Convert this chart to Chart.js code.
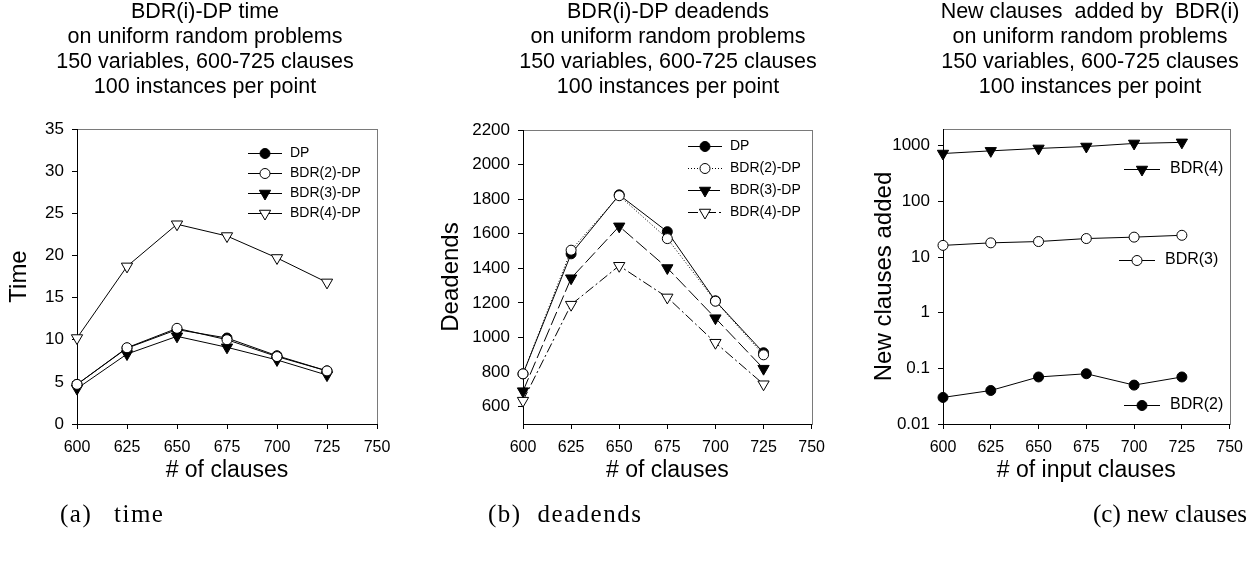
<!DOCTYPE html>
<html>
<head>
<meta charset="utf-8">
<title>BDR(i)-DP on uniform random problems</title>
<script src="https://cdn.jsdelivr.net/npm/chart.js@4.4.0/dist/chart.umd.min.js"></script>
<style>
    body { margin: 0; background: #fff; }
    #page { position: relative; width: 1252px; height: 571px; overflow: hidden; background: #fff; }
    #page canvas { position: absolute; top: 0; }
    .caption {
        position: absolute;
        font-family: 'Liberation Serif', 'Times New Roman', serif;
        font-size: 25px;
        color: #000;
        white-space: nowrap;
        line-height: 1;
        transform: translateY(-50%);
    }
</style>
</head>
<body>
<div id="page">
    <canvas id="timeChart" width="417" height="571" style="left:0"></canvas>
    <canvas id="deadendsChart" width="417" height="571" style="left:417px"></canvas>
    <canvas id="clausesChart" width="418" height="571" style="left:834px"></canvas>
    <div class="caption" style="left:60px; top:513px; word-spacing:14px; letter-spacing:1.5px">(a) time</div>
    <div class="caption" style="left:488px; top:513px; word-spacing:8px; letter-spacing:1.5px">(b) deadends</div>
    <div class="caption" style="left:1093px; top:513px">(c) new clauses</div>
</div>

<script>
// x values shared by all three panels
const clauses = [600, 625, 650, 675, 700, 725];
const clauseTicks = [600, 625, 650, 675, 700, 725, 750];

// (a) time
const timeDP = [4.7, 9.0, 11.2, 10.2, 8.1, 6.3];
const timeBDR2 = [4.7, 9.05, 11.35, 10.0, 8.0, 6.3];
const timeBDR3 = [4.2, 8.3, 10.4, 9.1, 7.6, 5.8];
const timeBDR4 = [10.2, 18.7, 23.7, 22.3, 19.7, 16.8];
const timeTicks = [0, 5, 10, 15, 20, 25, 30, 35];

// (b) deadends
const deadDP = [790, 1484, 1825, 1612, 1212, 912];
const deadBDR2 = [790, 1505, 1820, 1572, 1210, 900];
const deadBDR3 = [690, 1343, 1643, 1402, 1112, 820];
const deadBDR4 = [635, 1190, 1415, 1232, 970, 730];
const deadTicks = [600, 800, 1000, 1200, 1400, 1600, 1800, 2000, 2200];

// (c) new clauses (log scale)
const newBDR2 = [0.03, 0.04, 0.07, 0.08, 0.05, 0.07];
const newBDR3 = [16.2, 18, 19, 21.5, 22.8, 24.6];
const newBDR4 = [725, 810, 895, 970, 1100, 1150];
const newTicks = [0.01, 0.1, 1, 10, 100, 1000];

const SANS = "'Liberation Sans', Arial, sans-serif";

Chart.defaults.font.family = SANS;
Chart.defaults.color = '#000';
Chart.defaults.animation = false;

function points(ys) {
    return clauses.map((x, i) => ({ x: x, y: ys[i] }));
}

function series(label, ys, marker, extra) {
    return Object.assign({
        label: label,
        data: points(ys),
        borderColor: '#000',
        borderWidth: 1,
        tension: 0,
        clip: false,
        pointBorderColor: '#000',
        pointBorderWidth: 1,
        pointStyle: marker.style,
        pointRotation: marker.rotation || 0,
        pointBackgroundColor: marker.fill,
        pointRadius: marker.radius
    }, extra || {});
}

// grey box round the plot area; the axes draw their black edges over it
const plotFrame = {
    id: 'plotFrame',
    beforeDraw(chart) {
        const a = chart.chartArea;
        const ctx = chart.ctx;
        ctx.save();
        ctx.strokeStyle = '#7a7a7a';
        ctx.lineWidth = 1;
        ctx.strokeRect(Math.round(a.left) + 0.5, Math.round(a.top) + 0.5,
            Math.round(a.right - a.left), Math.round(a.bottom - a.top));
        ctx.restore();
    }
};

// the four centred heading lines above each panel
const panelTitle = {
    id: 'panelTitle',
    afterDraw(chart, args, opts) {
        if (!opts.lines) return;
        const ctx = chart.ctx;
        ctx.save();
        ctx.fillStyle = '#000';
        ctx.font = opts.size + 'px ' + SANS;
        ctx.textAlign = 'center';
        ctx.textBaseline = 'middle';
        opts.lines.forEach((line, i) => ctx.fillText(line, opts.x, opts.y + i * opts.step));
        ctx.restore();
    }
};

// legend entries drawn inside the plot, taken from the datasets themselves
const inlineLegend = {
    id: 'inlineLegend',
    afterDatasetsDraw(chart, args, opts) {
        if (!opts.items) return;
        const ctx = chart.ctx;
        const sets = chart.data.datasets;
        opts.items.forEach(function(item) {
            const ds = sets[item.ds];
            ctx.save();
            ctx.strokeStyle = '#000';
            ctx.lineWidth = 1;
            ctx.setLineDash(ds.borderDash || []);
            ctx.beginPath();
            ctx.moveTo(item.x0, item.y + 0.5);
            ctx.lineTo(item.x1, item.y + 0.5);
            ctx.stroke();
            ctx.setLineDash([]);
            ctx.fillStyle = ds.pointBackgroundColor;
            Chart.helpers.drawPoint(ctx, {
                pointStyle: ds.pointStyle,
                radius: ds.pointRadius,
                rotation: ds.pointRotation,
                borderWidth: 1
            }, (item.x0 + item.x1) / 2, item.y + 0.5);
            ctx.fillStyle = '#000';
            ctx.font = opts.size + 'px ' + SANS;
            ctx.textAlign = 'left';
            ctx.textBaseline = 'middle';
            ctx.fillText(ds.label, item.tx, item.y);
            ctx.restore();
        });
    }
};

function xAxis(titleText) {
    return {
        type: 'linear',
        min: 600,
        max: 750,
        afterBuildTicks: scale => { scale.ticks = clauseTicks.map(v => ({ value: v })); },
        afterFit: scale => { scale.height = 60; },
        grid: { drawOnChartArea: false, tickLength: 5, tickColor: '#000' },
        border: { color: '#000', width: 1 },
        ticks: { color: '#000', font: { size: 16 }, padding: 9, maxRotation: 0, autoSkip: false },
        title: { display: true, text: titleText, color: '#000', font: { size: 23 }, padding: 0 }
    };
}

function yAxis(opts) {
    return {
        type: opts.type || 'linear',
        min: opts.min,
        max: opts.max,
        afterBuildTicks: scale => { scale.ticks = opts.ticks.map(v => ({ value: v })); },
        afterFit: scale => { scale.width = opts.width; },
        grid: { drawOnChartArea: false, tickLength: 5, tickColor: '#000' },
        border: { color: '#000', width: 1 },
        ticks: { color: '#000', font: { size: 17 }, padding: 8, autoSkip: false, callback: v => String(v) },
        title: { display: true, text: opts.title, color: '#000', font: { size: 24 }, padding: { top: opts.titlePad, bottom: 0 } }
    };
}

function headingLines(first) {
    return [first, 'on uniform random problems', '150 variables, 600-725 clauses', '100 instances per point'];
}

const dot = { style: 'circle', fill: '#000', radius: 5 };
const ring = { style: 'circle', fill: '#fff', radius: 5 };
const tri = { style: 'triangle', rotation: 180, fill: '#000', radius: 6.5 };
const triOpen = { style: 'triangle', rotation: 180, fill: '#fff', radius: 6.5 };

function baseOptions(pad) {
    return {
        responsive: false,
        animation: false,
        events: [],
        layout: { padding: pad },
        plugins: { legend: { display: false }, tooltip: { enabled: false } }
    };
}

// (a) time
const timeOptions = baseOptions({ left: 0, right: 40, top: 129, bottom: 87 });
timeOptions.scales = {
    x: xAxis('# of clauses'),
    y: yAxis({ min: 0, max: 35, ticks: timeTicks, width: 77, title: 'Time', titlePad: 5 })
};
timeOptions.plugins.panelTitle = { lines: headingLines('BDR(i)-DP time'), x: 205, y: 12, step: 25, size: 21.5 };
timeOptions.plugins.inlineLegend = {
    size: 14,
    items: [
        { ds: 0, x0: 248, x1: 282, tx: 290, y: 153 },
        { ds: 1, x0: 248, x1: 282, tx: 290, y: 173 },
        { ds: 2, x0: 248, x1: 282, tx: 290, y: 193 },
        { ds: 3, x0: 248, x1: 282, tx: 290, y: 213 }
    ]
};

new Chart(document.getElementById('timeChart'), {
    type: 'line',
    data: {
        datasets: [
            series('DP', timeDP, dot, { order: 1 }),
            series('BDR(2)-DP', timeBDR2, ring, { order: 0 }),
            series('BDR(3)-DP', timeBDR3, tri, { order: 2 }),
            series('BDR(4)-DP', timeBDR4, triOpen, { order: 3 })
        ]
    },
    options: timeOptions,
    plugins: [plotFrame, panelTitle, inlineLegend]
});

// (b) deadends
const deadOptions = baseOptions({ left: 0, right: 22, top: 130, bottom: 87 });
deadOptions.scales = {
    x: xAxis('# of clauses'),
    y: yAxis({ min: 500, max: 2200, ticks: deadTicks, width: 106, title: 'Deadends', titlePad: 20 })
};
deadOptions.plugins.panelTitle = { lines: headingLines('BDR(i)-DP deadends'), x: 251, y: 12, step: 25, size: 21.5 };
deadOptions.plugins.inlineLegend = {
    size: 14,
    items: [
        { ds: 0, x0: 271, x1: 305, tx: 313, y: 146 },
        { ds: 1, x0: 271, x1: 305, tx: 313, y: 168 },
        { ds: 2, x0: 271, x1: 305, tx: 313, y: 190 },
        { ds: 3, x0: 271, x1: 305, tx: 313, y: 212 }
    ]
};

new Chart(document.getElementById('deadendsChart'), {
    type: 'line',
    data: {
        datasets: [
            series('DP', deadDP, dot, { order: 1 }),
            series('BDR(2)-DP', deadBDR2, ring, { order: 0, borderDash: [1, 2] }),
            series('BDR(3)-DP', deadBDR3, tri, { order: 2, borderDash: [14, 4] }),
            series('BDR(4)-DP', deadBDR4, triOpen, { order: 3, borderDash: [10, 3, 2, 3] })
        ]
    },
    options: deadOptions,
    plugins: [plotFrame, panelTitle, inlineLegend]
});

// (c) new clauses added
const newOptions = baseOptions({ left: 0, right: 18, top: 129, bottom: 87 });
newOptions.scales = {
    x: xAxis('# of input clauses'),
    y: yAxis({ type: 'logarithmic', min: 0.01, max: 2000, ticks: newTicks, width: 109, title: 'New clauses added', titlePad: 36 })
};
newOptions.plugins.panelTitle = { lines: headingLines('New clauses  added by  BDR(i)'), x: 256, y: 12, step: 25, size: 21.5 };
newOptions.plugins.inlineLegend = {
    size: 16,
    items: [
        { ds: 2, x0: 290, x1: 326, tx: 336, y: 169 },
        { ds: 1, x0: 285, x1: 321, tx: 331, y: 260 },
        { ds: 0, x0: 290, x1: 326, tx: 336, y: 405 }
    ]
};

new Chart(document.getElementById('clausesChart'), {
    type: 'line',
    data: {
        datasets: [
            series('BDR(2)', newBDR2, { style: 'circle', fill: '#000', radius: 5 }),
            series('BDR(3)', newBDR3, { style: 'circle', fill: '#fff', radius: 5 }),
            series('BDR(4)', newBDR4, { style: 'triangle', rotation: 180, fill: '#000', radius: 6.5 })
        ]
    },
    options: newOptions,
    plugins: [plotFrame, panelTitle, inlineLegend]
});
</script>
</body>
</html>
